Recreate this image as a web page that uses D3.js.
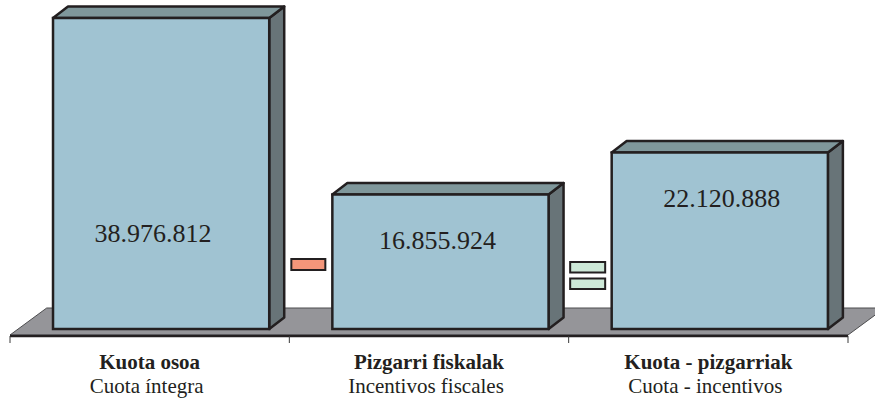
<!DOCTYPE html>
<html>
  <head>
    <meta charset="utf-8">
    <title>Kuota osoa - Pizgarri fiskalak</title>
    <script src="https://cdn.jsdelivr.net/npm/d3@7"></script>
    <style>
      body { margin: 0; background: #fff; }
      #chart { display: block; }
      .value { font-size: 26px; fill: #231f20; text-anchor: middle; }
      .catEu { font-size: 21px; font-weight: bold; fill: #231f20; text-anchor: middle; }
      .catEs { font-size: 21px; fill: #231f20; text-anchor: middle; }
    </style>
  </head>

  <body>
    <svg id="chart" width="875" height="400">
      <g id="floorGroup"></g>
      <g id="axisGroup"></g>
      <g id="barGroup"></g>
      <g id="opGroup"></g>
      <g id="labelGroup"></g>
    </svg>

    <script>
      // data
      categoriesEu = ["Kuota osoa", "Pizgarri fiskalak", "Kuota - pizgarriak"];
      categoriesEs = ["Cuota íntegra", "Incentivos fiscales", "Cuota - incentivos"];
      values = [38976812, 16855924, 22120888];

      // layout
      base = 329;
      depth = { dx: 15, dy: -11.5 };
      floorDepth = { dx: 36.7, dy: -27 };
      labelDy = [224, 54, 55];
      labelDx = [-8, -3, 2];
      ink = "#231f20";
      serif = "'Liberation Serif', 'DejaVu Serif', 'Noto Serif', serif";

      locale = d3.formatLocale({ decimal: ",", thousands: ".", grouping: [3], currency: ["", ""] });
      fmt = locale.format(",");

      chartData = categoriesEu.map(function(d, i) {
        return { eu: d, es: categoriesEs[i], value: values[i], i: i };
      });

      x = d3.scaleBand()
        .domain(categoriesEu)
        .range([10, 848])
        .padding(0);
      y = d3.scaleLinear()
        .domain([0, d3.max(values)])
        .range([base, 18]);

      barLeft = function(d) { return x(d.eu) + x.bandwidth() * 0.154; };
      barWidth = x.bandwidth() * 0.774;

      // floor
      floorGroup = d3.select("#floorGroup");
      fy = 335;
      floorGroup.append("polygon")
        .attr("points", [
          [10, fy],
          [10 + floorDepth.dx, fy + floorDepth.dy],
          [848 + floorDepth.dx, fy + floorDepth.dy],
          [848, fy]
        ].join(" "))
        .attr("fill", "#959599")
        .attr("stroke", "#4d4d4f")
        .attr("stroke-width", 1);
      floorGroup.append("line")
        .attr("x1", 10).attr("x2", 848)
        .attr("y1", fy + 1).attr("y2", fy + 1)
        .attr("stroke", ink)
        .attr("stroke-width", 2.5);

      // ticks at category boundaries
      d3.select("#axisGroup")
        .selectAll("line")
        .data(d3.range(categoriesEu.length + 1))
        .join("line")
          .attr("x1", function(i) { return x.range()[0] + i * x.bandwidth(); })
          .attr("x2", function(i) { return x.range()[0] + i * x.bandwidth(); })
          .attr("y1", fy + 1)
          .attr("y2", fy + 8)
          .attr("stroke", "#3a3a3a")
          .attr("stroke-width", 1);

      // bars
      bars = d3.select("#barGroup")
        .selectAll(".bar")
        .data(chartData)
        .join("g")
          .classed("bar", true);

      bars.append("polygon")
        .attr("points", function(d) {
          var x0 = barLeft(d) + barWidth, t = y(d.value), b = y(0);
          return [[x0, t], [x0 + depth.dx, t + depth.dy], [x0 + depth.dx, b + depth.dy], [x0, b]].join(" ");
        })
        .attr("fill", "#687478")
        .attr("stroke", ink)
        .attr("stroke-width", 2.5)
        .attr("stroke-linejoin", "round");

      bars.append("polygon")
        .attr("points", function(d) {
          var x0 = barLeft(d), x1 = x0 + barWidth, t = y(d.value);
          return [[x0, t], [x0 + depth.dx, t + depth.dy], [x1 + depth.dx, t + depth.dy], [x1, t]].join(" ");
        })
        .attr("fill", "#7f979b")
        .attr("stroke", ink)
        .attr("stroke-width", 2.5)
        .attr("stroke-linejoin", "round");

      bars.append("rect")
        .attr("x", barLeft)
        .attr("y", function(d) { return y(d.value); })
        .attr("width", barWidth)
        .attr("height", function(d) { return y(0) - y(d.value); })
        .attr("fill", "#a0c3d2")
        .attr("stroke", ink)
        .attr("stroke-width", 2.5);

      bars.append("text")
        .classed("value", true)
        .attr("font-family", serif)
        .attr("x", function(d) { return barLeft(d) + barWidth / 2 + labelDx[d.i]; })
        .attr("y", function(d) { return y(d.value) + labelDy[d.i]; })
        .text(function(d) { return fmt(d.value); });

      // operators
      opGroup = d3.select("#opGroup");
      b1 = x(categoriesEu[1]);
      b2 = x(categoriesEu[2]);
      opGroup.append("rect")
        .attr("x", b1 + 2).attr("y", 259)
        .attr("width", 34).attr("height", 11)
        .attr("fill", "#f4967a")
        .attr("stroke", ink)
        .attr("stroke-width", 2);
      opGroup.selectAll(".eq")
        .data([262, 278.5])
        .join("rect")
          .classed("eq", true)
          .attr("x", b2 + 1.5)
          .attr("y", function(d) { return d; })
          .attr("width", 35)
          .attr("height", 10.5)
          .attr("fill", "#cde8d7")
          .attr("stroke", ink)
          .attr("stroke-width", 2);

      // category labels
      labels = d3.select("#labelGroup")
        .selectAll("g")
        .data(chartData)
        .join("g");
      labels.append("text")
        .classed("catEu", true)
        .attr("font-family", serif)
        .attr("x", function(d) { return x(d.eu) + x.bandwidth() / 2; })
        .attr("y", 369)
        .text(function(d) { return d.eu; });
      labels.append("text")
        .classed("catEs", true)
        .attr("font-family", serif)
        .attr("x", function(d) { return x(d.eu) + x.bandwidth() / 2 - 3; })
        .attr("y", 393)
        .text(function(d) { return d.es; });
    </script>
  </body>
</html>
